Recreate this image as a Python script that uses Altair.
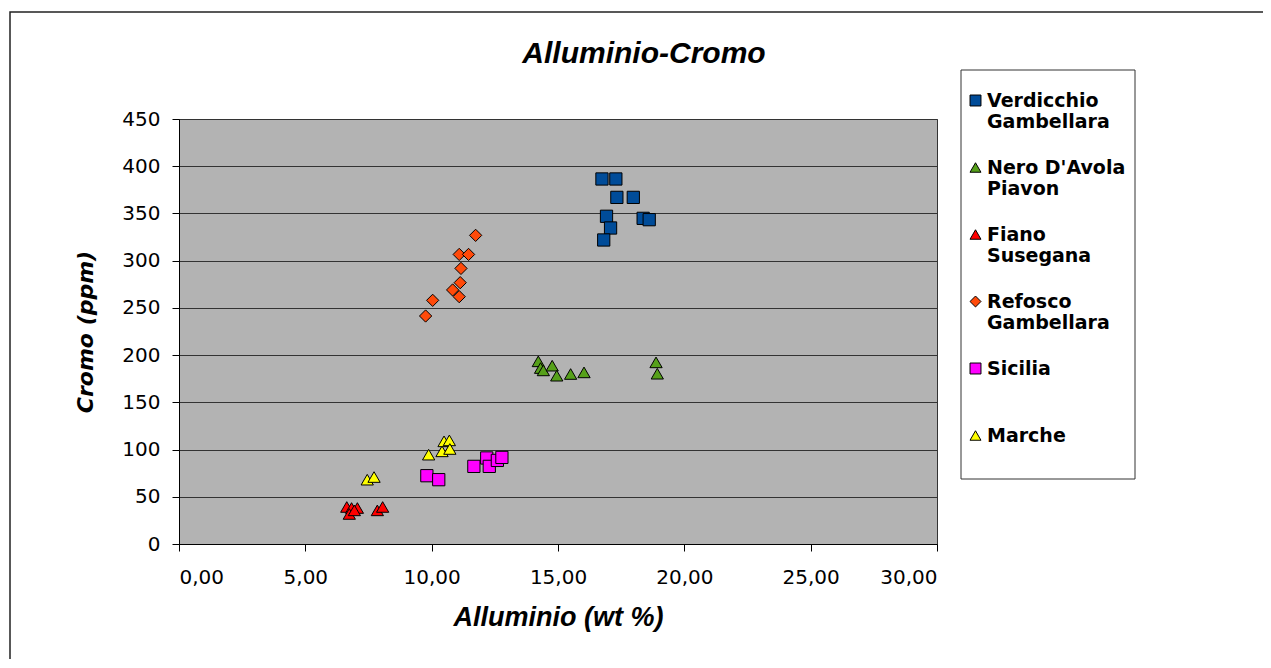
import altair as alt
import pandas as pd

series_names = ["Verdicchio|Gambellara", "Nero D'Avola|Piavon", "Fiano|Susegana",
                "Refosco|Gambellara", "Sicilia| ", "Marche"]
series_colors = ["#004C99", "#56A01A", "#FF0000", "#FF4A0A", "#FF00FF", "#FFFF00"]
series_shapes = ["square", "triangle-up", "triangle-up", "diamond", "square", "triangle-up"]

verdicchio_x = [16.74, 17.29, 17.33, 17.98, 16.92, 17.08, 16.81, 18.37, 18.61]
verdicchio_y = [386.5, 386.5, 367.0, 367.0, 347.0, 334.6, 321.9, 344.8, 343.4]
nero_x = [14.22, 14.31, 14.42, 14.77, 14.95, 15.50, 16.03, 18.88, 18.93]
nero_y = [193.4, 186.3, 183.8, 188.8, 178.2, 180.0, 181.7, 192.3, 180.3]
fiano_x = [6.64, 6.83, 7.06, 6.74, 6.94, 7.85, 8.06]
fiano_y = [39.2, 38.1, 38.1, 31.8, 35.6, 35.6, 39.2]
refosco_x = [11.74, 11.09, 11.46, 11.16, 11.13, 10.83, 11.09, 10.04, 9.76]
refosco_y = [326.8, 306.6, 306.6, 291.8, 276.7, 269.0, 261.9, 258.0, 241.4]
sicilia_x = [9.81, 10.28, 11.67, 12.18, 12.28, 12.60, 12.78]
sicilia_y = [72.3, 68.1, 82.2, 91.1, 82.2, 88.5, 91.7]
marche_x = [7.45, 7.72, 9.88, 10.41, 10.49, 10.70, 10.72]
marche_y = [68.1, 70.9, 94.6, 98.1, 108.7, 109.7, 100.6]

x_ticks = [0, 5, 10, 15, 20, 25, 30]
y_ticks = [0, 50, 100, 150, 200, 250, 300, 350, 400, 450]

all_x = [verdicchio_x, nero_x, fiano_x, refosco_x, sicilia_x, marche_x]
all_y = [verdicchio_y, nero_y, fiano_y, refosco_y, sicilia_y, marche_y]
rows = []
for name, xs, ys in zip(series_names, all_x, all_y):
    for xv, yv in zip(xs, ys):
        rows.append({"serie": name, "al": xv, "cr": yv})
df = pd.DataFrame(rows)

W, H = 758, 425
PL, PT = 171, 111

frame_df = pd.DataFrame({"k": [0]})
outer = alt.Chart(frame_df).mark_rect(fill="white", fillOpacity=0, stroke="#222222", strokeWidth=1.5).encode(
    x=alt.value(-169), x2=alt.value(1130), y=alt.value(-107), y2=alt.value(600)
)
legend_box = alt.Chart(frame_df).mark_rect(fill="white", stroke="#333333", strokeWidth=1).encode(
    x=alt.value(782), x2=alt.value(956), y=alt.value(-49), y2=alt.value(360)
)

leg = alt.Legend(
    title=None, orient="none", legendX=787, legendY=-28, padding=0,
    labelExpr="split(datum.label, '|')",
    labelFont="DejaVu Sans", labelFontWeight="bold", labelFontSize=19,
    labelColor="black", labelOffset=2,
    symbolSize=120, symbolStrokeColor="black", symbolStrokeWidth=1,
    rowPadding=26, labelLimit=300,
)

points = alt.Chart(df).mark_point(
    filled=True, stroke="black", strokeWidth=1, size=150, opacity=1
).encode(
    x=alt.X("al:Q", scale=alt.Scale(domain=[0, 30], nice=False),
            axis=alt.Axis(values=x_ticks, title="Alluminio (wt %)",
                          labelExpr="replace(format(datum.value, '.2f'), '.', ',')",
                          grid=False, titleY=81, titleBaseline="alphabetic",
                          labelPadding=16)),
    y=alt.Y("cr:Q", scale=alt.Scale(domain=[0, 450], nice=False),
            axis=alt.Axis(values=y_ticks, title="Cromo (ppm)", grid=True,
                          titleFont="DejaVu Sans", titleFontSize=22,
                          titleX=-87, titleBaseline="alphabetic",
                          labelPadding=12)),
    color=alt.Color("serie:N", scale=alt.Scale(domain=series_names, range=series_colors), legend=leg),
    shape=alt.Shape("serie:N", scale=alt.Scale(domain=series_names, range=series_shapes), legend=leg),
)

chart = alt.layer(outer, legend_box, points).properties(
    width=W, height=H,
    padding={"left": PL, "top": PT, "right": 326, "bottom": 115},
    autosize=alt.AutoSizeParams(type="none"),
    background="white",
    title=alt.Title("Alluminio-Cromo", font="Liberation Sans", fontSize=30,
                    fontStyle="italic", fontWeight="bold", color="black",
                    anchor="middle", frame="group", dx=86, offset=0, dy=82,
                    baseline="alphabetic"),
).configure_view(
    fill="#B3B3B3", stroke="#333333", strokeWidth=1
).configure_axis(
    labelFont="DejaVu Sans", labelFontSize=20, labelColor="black",
    tickColor="black", tickSize=7, domainColor="black", domainWidth=1,
    gridColor="#333333", gridWidth=1,
    titleFont="Liberation Sans", titleFontSize=27, titleFontStyle="italic",
    titleFontWeight="bold", titleColor="black",
)

chart.save("out.html", embed_options={"renderer": "svg", "actions": False})
